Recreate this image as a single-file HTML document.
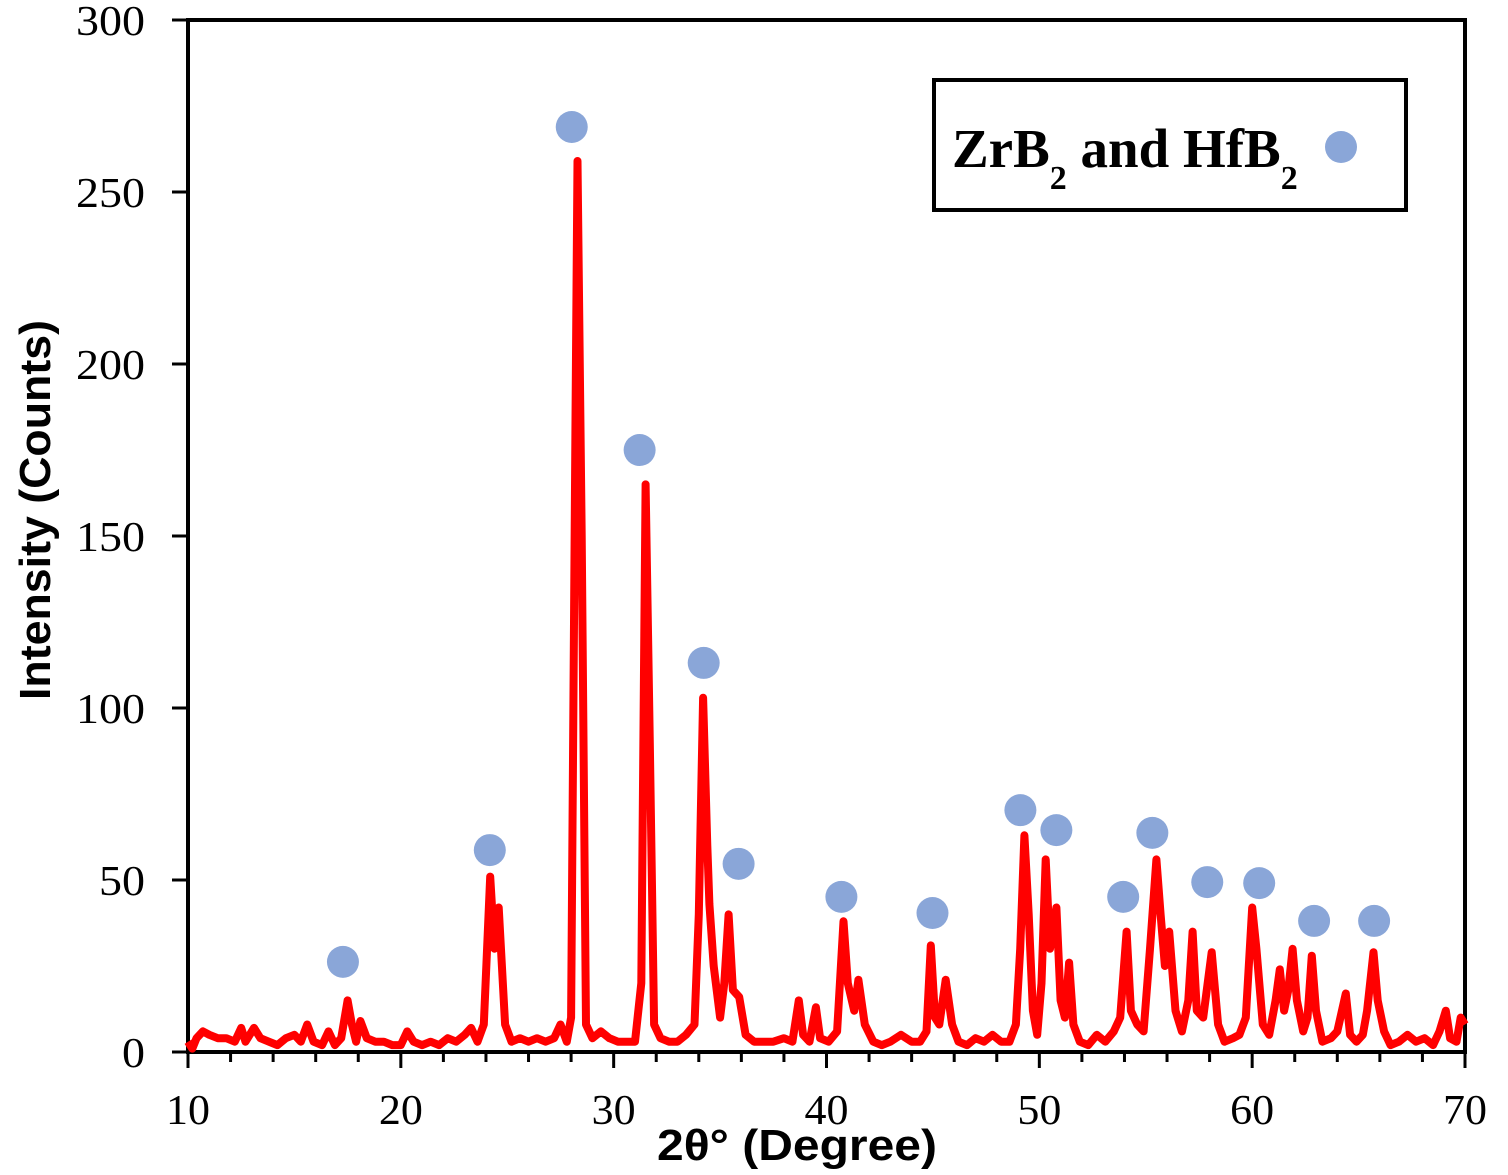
<!DOCTYPE html>
<html><head><meta charset="utf-8"><style>
html,body{margin:0;padding:0;background:#fff;}
svg{display:block;}
</style></head><body>
<svg id="chart" width="1508" height="1175" viewBox="0 0 1508 1175">
<g id="axes"></g>
<g id="series"></g>
<g id="markers"></g>
<g>
<rect x="934" y="80" width="472" height="130" fill="#fff" stroke="#000" stroke-width="4"/>
<text x="952" y="167" font-family="Liberation Serif, serif" font-weight="bold" font-size="55" fill="#000">ZrB<tspan font-size="34" dy="22">2</tspan><tspan dy="-22"> and HfB</tspan><tspan font-size="34" dy="22">2</tspan></text>
<circle cx="1341" cy="147" r="16" fill="#8aa6d8"/>
</g>
<text x="797" y="1160" text-anchor="middle" textLength="280" lengthAdjust="spacingAndGlyphs" font-family="Liberation Sans, sans-serif" font-weight="bold" font-size="44" fill="#000">2θ° (Degree)</text>
<text transform="translate(50,510) rotate(-90)" text-anchor="middle" textLength="380" lengthAdjust="spacingAndGlyphs" font-family="Liberation Sans, sans-serif" font-weight="bold" font-size="44" fill="#000">Intensity (Counts)</text>
</svg>
<script>
const xTicks = [10,20,30,40,50,60,70];
const yTicks = [0,50,100,150,200,250,300];
const twoTheta = [10.0,10.2,10.4,10.7,11.0,11.4,11.8,12.2,12.5,12.7,13.1,13.4,13.8,14.2,14.6,15.0,15.3,15.6,15.9,16.3,16.6,16.9,17.2,17.5,17.7,17.9,18.1,18.4,18.8,19.2,19.6,20.0,20.3,20.6,21.0,21.4,21.8,22.2,22.6,23.0,23.3,23.6,23.9,24.2,24.4,24.6,24.9,25.2,25.6,26.0,26.4,26.8,27.2,27.5,27.8,28.0,28.2,28.3,28.5,28.7,29.0,29.4,29.8,30.2,30.6,31.0,31.3,31.5,31.7,31.9,32.2,32.6,33.0,33.4,33.8,34.0,34.2,34.4,34.5,34.7,35.0,35.2,35.4,35.6,35.9,36.2,36.6,37.0,37.5,38.0,38.4,38.7,38.9,39.2,39.5,39.7,40.1,40.5,40.8,41.0,41.3,41.5,41.8,42.2,42.6,43.0,43.5,44.0,44.4,44.7,44.9,45.1,45.3,45.6,45.9,46.2,46.6,47.0,47.4,47.8,48.2,48.6,48.9,49.1,49.3,49.5,49.7,49.9,50.1,50.3,50.5,50.8,51.0,51.2,51.4,51.6,51.9,52.3,52.7,53.1,53.5,53.8,54.1,54.3,54.6,54.9,55.2,55.5,55.7,55.9,56.1,56.4,56.7,57.0,57.2,57.4,57.7,58.1,58.4,58.7,59.1,59.4,59.7,60.0,60.2,60.5,60.8,61.1,61.3,61.5,61.7,61.9,62.1,62.4,62.6,62.8,63.0,63.3,63.7,64.0,64.4,64.6,64.9,65.2,65.4,65.7,65.9,66.2,66.5,66.9,67.3,67.7,68.1,68.5,68.8,69.1,69.3,69.6,69.8,70.0];
const intensity = [3,1,4,6,5,4,4,3,7,3,7,4,3,2,4,5,3,8,3,2,6,2,4,15,8,3,9,4,3,3,2,2,6,3,2,3,2,4,3,5,7,3,8,51,30,42,8,3,4,3,4,3,4,8,3,10,180,259,150,8,4,6,4,3,3,3,20,165,90,8,4,3,3,5,8,40,103,60,43,25,10,20,40,18,16,5,3,3,3,4,3,15,5,3,13,4,3,6,38,20,12,21,8,3,2,3,5,3,3,6,31,10,8,21,8,3,2,4,3,5,3,3,8,30,63,40,12,5,20,56,30,42,15,10,26,8,3,2,5,3,6,10,35,12,8,6,30,56,40,25,35,12,6,15,35,12,10,29,8,3,4,5,10,42,30,8,5,15,24,12,18,30,15,6,10,28,12,3,4,6,17,5,3,5,12,29,15,6,2,3,5,3,4,2,6,12,4,3,10,8];
const markerX = [17.28,24.18,28.03,31.22,34.23,35.87,40.70,44.98,49.11,50.80,53.94,55.31,57.89,60.33,62.91,65.73];
const markerY = [26.2,58.7,268.9,175.0,113.1,54.7,45.1,40.4,70.3,64.5,45.1,63.7,49.4,49.1,38.1,38.1];

const NS='http://www.w3.org/2000/svg';
const L=188,R=1465,T=20,B=1052;
const xs=v=>L+(v-10)/60*(R-L);
const ys=v=>B-v/300*(B-T);
function mk(tag,attrs,parent){const e=document.createElementNS(NS,tag);for(const k in attrs)e.setAttribute(k,attrs[k]);parent.appendChild(e);return e;}
const axes=document.getElementById('axes');
const frame=mk('path',{d:`M${L},${B} L${L},${T} L${R},${T} L${R},${B} Z`,fill:'none',stroke:'#000','stroke-width':4},axes);


yTicks.forEach(v=>{
  const t=mk('line',{x1:L-16,x2:L,y1:ys(v),y2:ys(v),stroke:'#000','stroke-width':3},axes);
  
  
  const s=String(v);
  const lb=mk('text',{x:145,y:ys(v)+15,'text-anchor':'end','font-family':'Liberation Serif, serif','font-size':42,textLength:s.length*23,lengthAdjust:'spacingAndGlyphs'},axes);
  lb.textContent=s;
  
  
});
for(let v=10;v<=70;v+=2){
  const major=(v%10===0);
  const t=mk('line',{x1:xs(v),x2:xs(v),y1:B,y2:B+(major?16:10),stroke:'#000','stroke-width':3},axes);
  
  
}
xTicks.forEach(v=>{
  const lb=mk('text',{x:xs(v),y:1124,'text-anchor':'middle','font-family':'Liberation Serif, serif','font-size':42,textLength:44,lengthAdjust:'spacingAndGlyphs'},axes);
  lb.textContent=v;
  
  
});
const series=document.getElementById('series');
const pts=twoTheta.map((x,i)=>xs(x).toFixed(1)+','+ys(intensity[i]).toFixed(1)).join(' ');
const line=mk('polyline',{points:pts,fill:'none',stroke:'#f00','stroke-width':8,'stroke-linejoin':'round'},series);


const markers=document.getElementById('markers');
markerX.forEach((x,i)=>{
  const c=mk('circle',{cx:xs(x),cy:ys(markerY[i]),r:16,fill:'#8aa6d8'},markers);
  
  
});
</script>
</body></html>
